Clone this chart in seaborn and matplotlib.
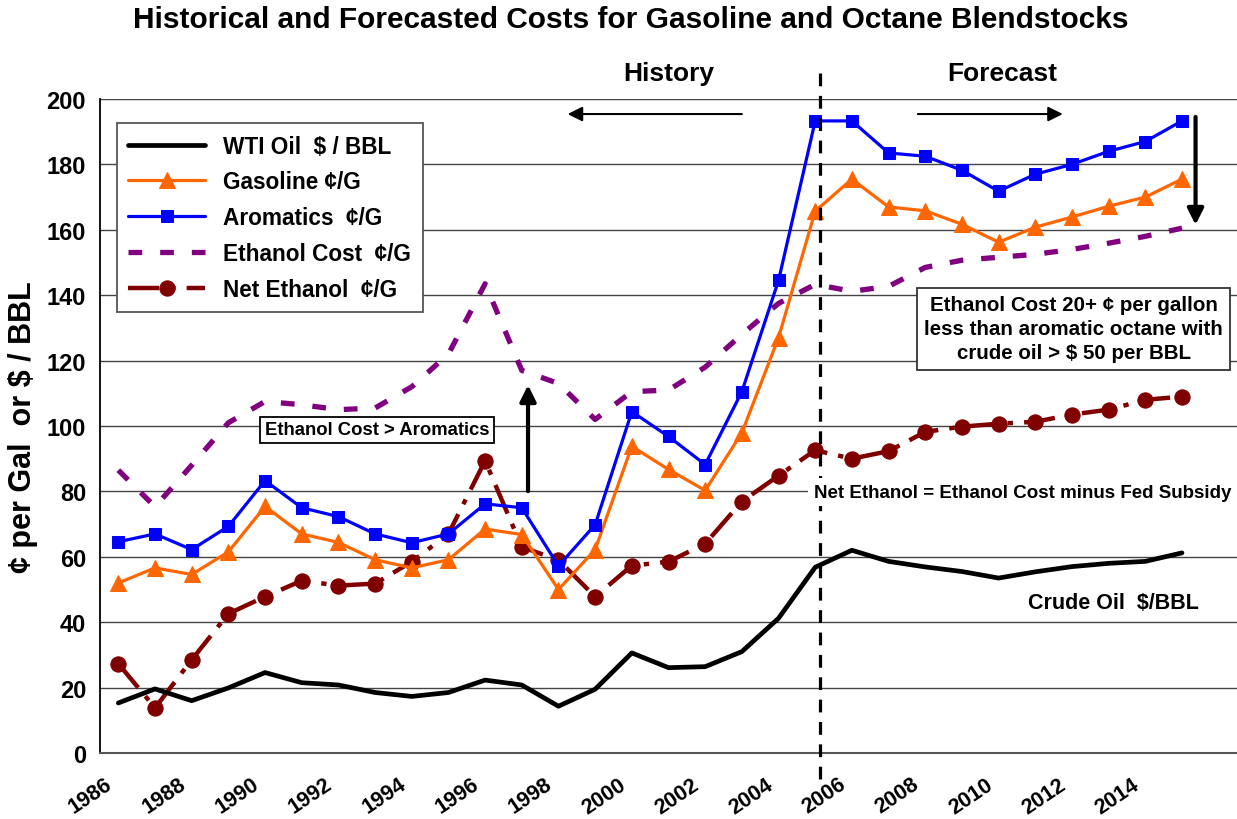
import numpy as np
import pandas as pd
import matplotlib
matplotlib.use("Agg")
import matplotlib.pyplot as plt
import matplotlib.transforms as mtransforms
import seaborn as sns

sns.set_style("white")
plt.rcParams['font.family'] = ['Liberation Sans', 'DejaVu Sans']
plt.rcParams['font.weight'] = 'bold'
for k in ['text.color', 'axes.labelcolor', 'xtick.color', 'ytick.color']:
    plt.rcParams[k] = 'black'

# ---------------- data ----------------
years = list(range(1986, 2016))
wti = [15.3, 19.6, 16.0, 19.9, 24.6, 21.5, 20.8, 18.5, 17.3, 18.5,
       22.3, 20.8, 14.3, 19.5, 30.6, 26.1, 26.4, 31.0, 41.2, 56.8,
       62.0, 58.6, 56.9, 55.5, 53.5, 55.4, 57.0, 58.0, 58.6, 61.2]
gasoline = [52.0, 56.6, 54.6, 61.5, 75.4, 67.0, 64.4, 59.1, 56.6, 59.1,
            68.5, 66.8, 50.0, 62.2, 93.8, 86.7, 80.3, 97.9, 127.0, 165.7,
            175.5, 167.0, 165.8, 161.7, 156.2, 160.8, 163.9, 167.2, 170.0, 175.5]
aromatics = [64.6, 67.0, 62.2, 69.3, 83.3, 75.0, 72.3, 67.0, 64.3, 67.0,
             76.2, 75.0, 57.2, 69.8, 104.4, 96.8, 88.2, 110.5, 144.5, 193.3,
             193.3, 183.5, 182.5, 178.2, 171.8, 177.0, 180.0, 184.0, 187.0, 193.3]
ethanol_cost = [86.5, 75.3, 88.0, 101.0, 107.5, 106.5, 105.0, 105.5, 112.0, 122.0,
                143.5, 117.0, 113.0, 102.0, 110.5, 111.0, 118.0, 128.0, 137.5, 143.3,
                141.2, 142.7, 148.5, 150.7, 151.6, 152.5, 154.0, 155.9, 158.0, 160.5]
net_ethanol = [27.3, 13.8, 28.5, 42.6, 47.8, 52.7, 51.2, 51.8, 58.5, 67.0,
               89.4, 63.0, 59.0, 47.8, 57.3, 58.5, 64.0, 76.9, 84.8, 92.6,
               90.0, 92.3, 98.2, 99.8, 100.7, 101.3, 103.5, 105.0, 108.0, 109.0]
tick_years = list(range(1986, 2015, 2))
y_ticks = list(range(0, 201, 20))
labels = ["WTI Oil  $ / BBL", "Gasoline \u00a2/G", "Aromatics  \u00a2/G",
          "Ethanol Cost  \u00a2/G", "Net Ethanol  \u00a2/G"]

df = pd.DataFrame({"year": years, "wti": wti, "gas": gasoline, "aro": aromatics,
                   "eth": ethanol_cost, "net": net_ethanol})

# ---------------- figure ----------------
fig = plt.figure(figsize=(12.37, 8.2), dpi=100)
ax = fig.add_axes([100/1237, 1-754/820, 1137/1237, 654/820])

ORANGE = "#FF6600"
BLUE = "#0000FF"
PURPLE = "#800080"
MAROON = "#800000"

sns.lineplot(data=df, x="year", y="eth", ax=ax, color=PURPLE, lw=3.8,
             linestyle=(0, (2.6, 3.4)), label=labels[3], zorder=3)
sns.lineplot(data=df, x="year", y="net", ax=ax, color=MAROON, lw=3.2,
             linestyle=(0, (7, 2.5, 1.2, 2.5)), marker='o', markersize=11,
             markeredgecolor=MAROON, markerfacecolor=MAROON, label=labels[4], zorder=4)
sns.lineplot(data=df, x="year", y="wti", ax=ax, color="black", lw=3.4,
             label=labels[0], zorder=5)
sns.lineplot(data=df, x="year", y="gas", ax=ax, color=ORANGE, lw=2.3,
             marker='^', markersize=11, markeredgecolor=ORANGE,
             markerfacecolor=ORANGE, label=labels[1], zorder=6)
sns.lineplot(data=df, x="year", y="aro", ax=ax, color=BLUE, lw=2.3,
             marker='s', markersize=8.5, markeredgecolor=BLUE,
             markerfacecolor=BLUE, label=labels[2], zorder=7)

# ---------------- axes ----------------
ax.set_xlim(1985.5, 2016.5)
ax.set_ylim(0, 200)
ax.set_yticks(y_ticks)
ax.set_yticklabels([str(v) for v in y_ticks], fontsize=17, fontweight='bold')
ax.set_xticks([y + 0.5 for y in range(1985, 2016)], minor=True)
ax.set_xticks(tick_years)
ax.tick_params(axis='x', which='major', length=0, pad=21)
ax.tick_params(axis='x', which='minor', length=6, width=1.2, color='#555555', direction='out')
ax.tick_params(axis='y', length=6, width=1.2, color='#555555', direction='out', pad=4)
ax.set_xticklabels([str(y) for y in tick_years], fontsize=15.5, fontweight='bold',
                   rotation=34, ha='right', va='center', rotation_mode='anchor')
offset = mtransforms.ScaledTranslation(-8/100, 0, fig.dpi_scale_trans)
for lbl in ax.get_xticklabels():
    lbl.set_transform(lbl.get_transform() + offset)
ax.set_xlabel("")
ax.set_ylabel("\u00a2 per Gal  or $ / BBL", fontsize=22, fontweight='bold', labelpad=6)
ax.grid(axis='y', color='#444444', lw=1.0)
ax.grid(axis='x', visible=False)
ax.set_axisbelow(True)
for s in ['top', 'right']:
    ax.spines[s].set_visible(False)
ax.spines['left'].set_color('black')
ax.spines['left'].set_linewidth(1.3)
ax.spines['bottom'].set_color('#555555')
ax.spines['bottom'].set_linewidth(1.5)

fig.text(631/1237, 1-20/820, "Historical and Forecasted Costs for Gasoline and Octane Blendstocks",
         ha='center', va='center', fontsize=21.5, fontweight='bold')

# ---------------- legend ----------------
h, l = ax.get_legend_handles_labels()
hmap = dict(zip(l, h))
leg = ax.legend([hmap[x] for x in labels], labels, loc='upper left',
                bbox_to_anchor=(0.015, 0.963), fontsize=16.3, frameon=True,
                fancybox=False, edgecolor='#555555', framealpha=1,
                handlelength=3.4, labelspacing=0.57, borderpad=0.5,
                handletextpad=0.8, borderaxespad=0)
leg.get_frame().set_linewidth(1.3)
for t in leg.get_texts():
    t.set_fontweight('bold')

# ---------------- annotations ----------------
ax.plot([2005.14, 2005.14], [-8, 210.7], ls=(0, (4, 3)), color='black', lw=2.3,
        clip_on=False, zorder=8)
ax.text(2001.0, 208.0, "History", ha='center', va='center', fontsize=19, fontweight='bold')
ax.text(2010.1, 208.0, "Forecast", ha='center', va='center', fontsize=19, fontweight='bold')
ax.annotate("", xy=(1998.25, 195.4), xytext=(2003.0, 195.4),
            arrowprops=dict(arrowstyle='-|>', color='black', lw=1.5,
                            mutation_scale=22, shrinkA=0, shrinkB=0))
ax.annotate("", xy=(2011.75, 195.4), xytext=(2007.8, 195.4),
            arrowprops=dict(arrowstyle='-|>', color='black', lw=1.5,
                            mutation_scale=22, shrinkA=0, shrinkB=0))
ax.annotate("", xy=(1997.17, 112.5), xytext=(1997.17, 80.1),
            arrowprops=dict(arrowstyle='-|>', color='black', lw=3,
                            mutation_scale=24, shrinkA=0, shrinkB=0), zorder=9)
ax.annotate("", xy=(2015.37, 161.5), xytext=(2015.37, 194.5),
            arrowprops=dict(arrowstyle='-|>', color='black', lw=3,
                            mutation_scale=24, shrinkA=0, shrinkB=0), zorder=9)

ax.text(1993.06, 98.8, "Ethanol Cost > Aromatics", ha='center', va='center',
        fontsize=13.3, fontweight='bold', zorder=10,
        bbox=dict(boxstyle='square,pad=0.25', fc='white', ec='black', lw=1.3))
ax.text(2012.05, 129.7, "Ethanol Cost 20+ \u00a2 per gallon\nless than aromatic octane with\ncrude oil > $ 50 per BBL",
        ha='center', va='center', fontsize=14.8, fontweight='bold', linespacing=1.33,
        zorder=10, bbox=dict(boxstyle='square,pad=0.35', fc='white', ec='#333333', lw=1.3))
ax.text(2010.66, 79.8, "Net Ethanol = Ethanol Cost minus Fed Subsidy", ha='center',
        va='center', fontsize=13.5, fontweight='bold', zorder=10,
        bbox=dict(boxstyle='square,pad=0.3', fc='white', ec='none'))
ax.text(2013.14, 45.9, "Crude Oil  $/BBL", ha='center', va='center',
        fontsize=15.5, fontweight='bold', zorder=10)

fig.savefig("out.png", dpi=100)
